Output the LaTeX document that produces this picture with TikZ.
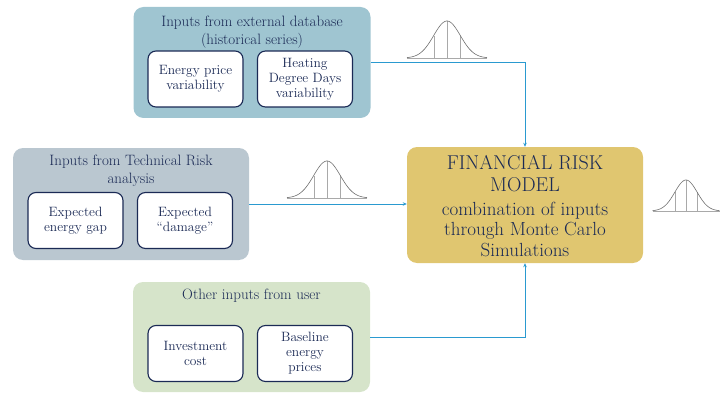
\documentclass[tikz,border=0pt]{standalone}
\usetikzlibrary{arrows.meta}
\definecolor{navy}{HTML}{1B2A55}
\definecolor{topfill}{HTML}{9FC5D1}
\definecolor{midfill}{HTML}{BAC7D0}
\definecolor{botfill}{HTML}{D6E4CA}
\definecolor{modfill}{HTML}{E0C670}
\definecolor{arrowc}{HTML}{2A9AD0}
\definecolor{bellc}{HTML}{707070}
\tikzset{
  outerbox/.style={draw=none, rounded corners=10pt, inner sep=0pt},
  innerbox/.style={draw=navy, line width=1.1pt, fill=white, rounded corners=8pt,
    minimum width=95pt, minimum height=56pt, align=center, text=navy,
    font=\fontsize{13.5}{15}\selectfont, inner sep=1pt},
  titletext/.style={align=center, text=navy, font=\fontsize{15}{18}\selectfont, inner sep=0pt},
  conn/.style={draw=arrowc, line width=0.9pt, -{Stealth[length=4pt,width=3.5pt]}},
  bellline/.style={draw=bellc, line width=0.6pt},
  bellthin/.style={draw=bellc!60, line width=0.3pt}
}
\newcommand{\bellcurve}[4]{%
  \begin{scope}[shift={(#1,#2)}]
    \draw[bellthin] ({-#3/2},0) -- ({#3/2},0);
    \draw[bellthin] (0,0) -- (0,{-#4});
    \draw[bellthin] ({-#3/6},0) -- ({-#3/6},{-#4*0.6065});
    \draw[bellthin] ({#3/6},0) -- ({#3/6},{-#4*0.6065});
    \draw[bellline] plot[domain=-3:3,samples=60,smooth] ({\x*#3/6},{-#4*exp(-\x*\x/2)});
  \end{scope}}
\begin{document}
\begin{tikzpicture}[x=1pt,y=-1pt]
\useasboundingbox (0,0) rectangle (721,396);
% outer boxes
\node[outerbox, fill=topfill, minimum width=237pt, minimum height=111pt] (ext) at (252,62.5) {};
\node[outerbox, fill=midfill, minimum width=236pt, minimum height=112pt] (tech) at (131,204) {};
\node[outerbox, fill=botfill, minimum width=237pt, minimum height=110pt] (user) at (251.5,337) {};
\node[outerbox, fill=modfill, minimum width=236pt, minimum height=116pt] (model) at (525,205) {};
% titles
\node[titletext] (extT) at (252,32.5) {Inputs from external database\\(historical series)};
\node[titletext] (techT) at (131,171) {Inputs from Technical Risk\\analysis};
\node[titletext] (userT) at (251.5,296) {Other inputs from user};
% inner boxes
\node[innerbox] (epv) at (195.5,79) {Energy price\\variability};
\node[innerbox] (hdd) at (305,79) {Heating\\Degree Days\\variability};
\node[innerbox] (gap) at (75.5,220.5) {Expected\\energy gap};
\node[innerbox] (dmg) at (185,220.5) {Expected\\``damage''};
\node[innerbox] (inv) at (195.5,353.5) {Investment\\cost};
\node[innerbox] (bep) at (305,353.5) {Baseline\\energy\\prices};
% model text
\node[align=center, text=navy, inner sep=0pt, font=\fontsize{20}{22}\selectfont] (modelA) at (525,173.5) {FINANCIAL RISK\\MODEL};
\node[align=center, text=navy, inner sep=0pt, font=\fontsize{19}{20.5}\selectfont] (modelB) at (525,229) {combination of inputs\\through Monte Carlo\\Simulations};
% connectors
\draw[conn] (ext.east) -| (model.north);
\draw[conn] (tech.east) -- (tech.east -| model.west);
\draw[conn] (user.east) -| (model.south);
% bell curves
\bellcurve{447}{58}{80}{37}
\bellcurve{327}{198}{80}{37}
\bellcurve{686}{211}{67}{31}
\end{tikzpicture}
\end{document}
